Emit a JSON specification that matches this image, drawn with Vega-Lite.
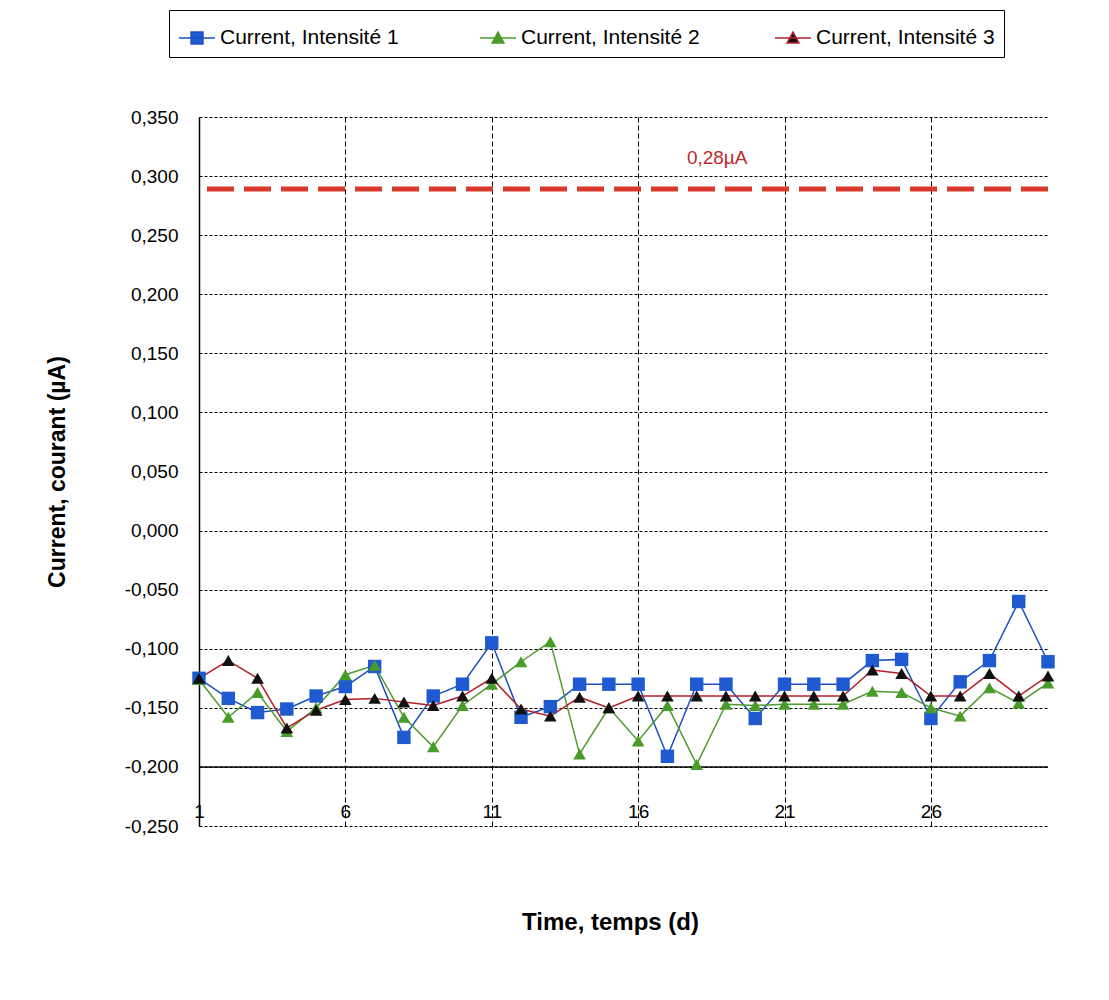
{
  "$schema": "https://vega.github.io/schema/vega-lite/v6.json",
  "width": 849,
  "height": 709,
  "autosize": {"type": "none"},
  "padding": {"left": 199, "top": 117, "right": 61, "bottom": 174},
  "background": "white",
  "config": {
    "locale": {"number": {"decimal": ",", "thousands": " ", "grouping": [3], "currency": ["", ""], "minus": "-"}},
    "view": {"stroke": null},
    "font": "Liberation Sans"
  },
  "datasets": {
    "series": [
      {"t": 1, "s": "Current, Intensité  1", "v": -0.125},
      {"t": 2, "s": "Current, Intensité  1", "v": -0.142},
      {"t": 3, "s": "Current, Intensité  1", "v": -0.154},
      {"t": 4, "s": "Current, Intensité  1", "v": -0.151},
      {"t": 5, "s": "Current, Intensité  1", "v": -0.140},
      {"t": 6, "s": "Current, Intensité  1", "v": -0.132},
      {"t": 7, "s": "Current, Intensité  1", "v": -0.115},
      {"t": 8, "s": "Current, Intensité  1", "v": -0.175},
      {"t": 9, "s": "Current, Intensité  1", "v": -0.140},
      {"t": 10, "s": "Current, Intensité  1", "v": -0.130},
      {"t": 11, "s": "Current, Intensité  1", "v": -0.095},
      {"t": 12, "s": "Current, Intensité  1", "v": -0.158},
      {"t": 13, "s": "Current, Intensité  1", "v": -0.149},
      {"t": 14, "s": "Current, Intensité  1", "v": -0.130},
      {"t": 15, "s": "Current, Intensité  1", "v": -0.130},
      {"t": 16, "s": "Current, Intensité  1", "v": -0.130},
      {"t": 17, "s": "Current, Intensité  1", "v": -0.191},
      {"t": 18, "s": "Current, Intensité  1", "v": -0.130},
      {"t": 19, "s": "Current, Intensité  1", "v": -0.130},
      {"t": 20, "s": "Current, Intensité  1", "v": -0.159},
      {"t": 21, "s": "Current, Intensité  1", "v": -0.130},
      {"t": 22, "s": "Current, Intensité  1", "v": -0.130},
      {"t": 23, "s": "Current, Intensité  1", "v": -0.130},
      {"t": 24, "s": "Current, Intensité  1", "v": -0.110},
      {"t": 25, "s": "Current, Intensité  1", "v": -0.109},
      {"t": 26, "s": "Current, Intensité  1", "v": -0.159},
      {"t": 27, "s": "Current, Intensité  1", "v": -0.128},
      {"t": 28, "s": "Current, Intensité  1", "v": -0.110},
      {"t": 29, "s": "Current, Intensité  1", "v": -0.060},
      {"t": 30, "s": "Current, Intensité  1", "v": -0.111},
      {"t": 1, "s": "Current, Intensité 2", "v": -0.126},
      {"t": 2, "s": "Current, Intensité 2", "v": -0.158},
      {"t": 3, "s": "Current, Intensité 2", "v": -0.137},
      {"t": 4, "s": "Current, Intensité 2", "v": -0.170},
      {"t": 5, "s": "Current, Intensité 2", "v": -0.150},
      {"t": 6, "s": "Current, Intensité 2", "v": -0.122},
      {"t": 7, "s": "Current, Intensité 2", "v": -0.114},
      {"t": 8, "s": "Current, Intensité 2", "v": -0.158},
      {"t": 9, "s": "Current, Intensité 2", "v": -0.183},
      {"t": 10, "s": "Current, Intensité 2", "v": -0.148},
      {"t": 11, "s": "Current, Intensité 2", "v": -0.130},
      {"t": 12, "s": "Current, Intensité 2", "v": -0.111},
      {"t": 13, "s": "Current, Intensité 2", "v": -0.094},
      {"t": 14, "s": "Current, Intensité 2", "v": -0.189},
      {"t": 15, "s": "Current, Intensité 2", "v": -0.150},
      {"t": 16, "s": "Current, Intensité 2", "v": -0.178},
      {"t": 17, "s": "Current, Intensité 2", "v": -0.148},
      {"t": 18, "s": "Current, Intensité 2", "v": -0.198},
      {"t": 19, "s": "Current, Intensité 2", "v": -0.147},
      {"t": 20, "s": "Current, Intensité 2", "v": -0.148},
      {"t": 21, "s": "Current, Intensité 2", "v": -0.147},
      {"t": 22, "s": "Current, Intensité 2", "v": -0.147},
      {"t": 23, "s": "Current, Intensité 2", "v": -0.147},
      {"t": 24, "s": "Current, Intensité 2", "v": -0.136},
      {"t": 25, "s": "Current, Intensité 2", "v": -0.137},
      {"t": 26, "s": "Current, Intensité 2", "v": -0.150},
      {"t": 27, "s": "Current, Intensité 2", "v": -0.157},
      {"t": 28, "s": "Current, Intensité 2", "v": -0.133},
      {"t": 29, "s": "Current, Intensité 2", "v": -0.146},
      {"t": 30, "s": "Current, Intensité 2", "v": -0.129},
      {"t": 1, "s": "Current, Intensité 3", "v": -0.125},
      {"t": 2, "s": "Current, Intensité 3", "v": -0.110},
      {"t": 3, "s": "Current, Intensité 3", "v": -0.125},
      {"t": 4, "s": "Current, Intensité 3", "v": -0.167},
      {"t": 5, "s": "Current, Intensité 3", "v": -0.152},
      {"t": 6, "s": "Current, Intensité 3", "v": -0.143},
      {"t": 7, "s": "Current, Intensité 3", "v": -0.142},
      {"t": 8, "s": "Current, Intensité 3", "v": -0.145},
      {"t": 9, "s": "Current, Intensité 3", "v": -0.148},
      {"t": 10, "s": "Current, Intensité 3", "v": -0.140},
      {"t": 11, "s": "Current, Intensité 3", "v": -0.125},
      {"t": 12, "s": "Current, Intensité 3", "v": -0.151},
      {"t": 13, "s": "Current, Intensité 3", "v": -0.157},
      {"t": 14, "s": "Current, Intensité 3", "v": -0.141},
      {"t": 15, "s": "Current, Intensité 3", "v": -0.150},
      {"t": 16, "s": "Current, Intensité 3", "v": -0.140},
      {"t": 17, "s": "Current, Intensité 3", "v": -0.140},
      {"t": 18, "s": "Current, Intensité 3", "v": -0.140},
      {"t": 19, "s": "Current, Intensité 3", "v": -0.140},
      {"t": 20, "s": "Current, Intensité 3", "v": -0.140},
      {"t": 21, "s": "Current, Intensité 3", "v": -0.140},
      {"t": 22, "s": "Current, Intensité 3", "v": -0.140},
      {"t": 23, "s": "Current, Intensité 3", "v": -0.140},
      {"t": 24, "s": "Current, Intensité 3", "v": -0.118},
      {"t": 25, "s": "Current, Intensité 3", "v": -0.121},
      {"t": 26, "s": "Current, Intensité 3", "v": -0.140},
      {"t": 27, "s": "Current, Intensité 3", "v": -0.140},
      {"t": 28, "s": "Current, Intensité 3", "v": -0.121},
      {"t": 29, "s": "Current, Intensité 3", "v": -0.140},
      {"t": 30, "s": "Current, Intensité 3", "v": -0.123}
    ],
    "notes": [
      {"t": 18.7, "v": 0.315, "label": "0,28µA"}
    ]
  },
  "layer": [
    {
      "data": {"values": [{"v": -0.2}]},
      "mark": {"type": "rule", "color": "black", "strokeWidth": 1.5},
      "encoding": {"y": {"field": "v", "type": "quantitative"}}
    },
    {
      "data": {"values": [{"v": 0.289}]},
      "mark": {"type": "rule", "color": "#d8392b", "strokeWidth": 5, "strokeDash": [27, 10]},
      "encoding": {"y": {"field": "v", "type": "quantitative"}}
    },
    {
      "data": {"name": "series"},
      "mark": {"type": "line", "strokeWidth": 1.5},
      "encoding": {
        "x": {
          "field": "t", "type": "quantitative",
          "scale": {"domain": [1, 30], "nice": false, "zero": false},
          "axis": {
            "values": [1, 6, 11, 16, 21, 26],
            "grid": true, "gridColor": "black", "gridOpacity": 1, "gridDash": [5, 3], "gridWidth": 1,
            "domain": false, "ticks": false,
            "labelPadding": -24, "labelFlush": false, "labelFontSize": 19, "labelColor": "black",
            "title": "Time, temps (d)", "titleFontSize": 24, "titleFontWeight": "bold", "titleColor": "black",
            "titleY": 96, "titleBaseline": "middle", "titleX": 411
          }
        },
        "y": {
          "field": "v", "type": "quantitative",
          "scale": {"domain": [-0.25, 0.35], "nice": false, "zero": false},
          "axis": {
            "values": [-0.25, -0.2, -0.15, -0.1, -0.05, 0, 0.05, 0.1, 0.15, 0.2, 0.25, 0.3, 0.35],
            "format": ".3f",
            "grid": true, "gridColor": "black", "gridOpacity": 1, "gridDash": [3, 2], "gridWidth": 1,
            "domain": true, "domainColor": "black", "domainWidth": 1.5, "ticks": false,
            "labelPadding": 21, "labelFontSize": 19, "labelColor": "black",
            "title": "Current, courant (µA)", "titleFontSize": 23, "titleFontWeight": "bold", "titleColor": "black",
            "titlePadding": 55
          }
        },
        "stroke": {
          "field": "s", "type": "nominal", "title": null,
          "scale": {"domain": ["Current, Intensité  1", "Current, Intensité 2", "Current, Intensité 3"], "range": ["#1d4fc2", "#4f9a2e", "#b3202a"]},
          "legend": {
            "orient": "none", "legendX": -30, "legendY": -107, "direction": "horizontal", "columns": 3,
            "columnPadding": 72, "padding": 9, "strokeColor": "black", "fillColor": "white",
            "labelFontSize": 21, "labelColor": "black", "labelOffset": 4, "labelLimit": 400,
            "symbolSize": 1296, "symbolStrokeWidth": 1.5
          }
        },
        "detail": {"field": "s"}
      }
    },
    {
      "data": {"name": "series"},
      "mark": {"type": "point", "filled": true, "size": 0, "opacity": 1},
      "encoding": {
        "x": {"field": "t", "type": "quantitative"},
        "y": {"field": "v", "type": "quantitative"},
        "fill": {
          "field": "s", "type": "nominal", "title": null,
          "scale": {"domain": ["Current, Intensité  1", "Current, Intensité 2", "Current, Intensité 3"], "range": ["#1f5ad0", "#4a9c2a", "#111111"]}
        },
        "shape": {
          "field": "s", "type": "nominal", "title": null,
          "scale": {"domain": ["Current, Intensité  1", "Current, Intensité 2", "Current, Intensité 3"], "range": ["M-1,0H1M-0.33,-0.33H0.33V0.33H-0.33Z", "M-1,0H1M-0.33,0.28L0,-0.33L0.33,0.28Z", "M-1,0H1M-0.33,0.28L0,-0.33L0.33,0.28Z"]}
        }
      }
    },
    {
      "data": {"name": "series"},
      "transform": [{"filter": "datum.s === 'Current, Intensité  1'"}],
      "mark": {"type": "point", "filled": true, "size": 180, "opacity": 1, "shape": "square"},
      "encoding": {
        "x": {"field": "t", "type": "quantitative"},
        "y": {"field": "v", "type": "quantitative"},
        "fill": {"field": "s", "type": "nominal", "title": null}
      }
    },
    {
      "data": {"name": "series"},
      "transform": [{"filter": "datum.s !== 'Current, Intensité  1'"}],
      "mark": {"type": "point", "filled": true, "size": 160, "opacity": 1, "shape": "triangle-up"},
      "encoding": {
        "x": {"field": "t", "type": "quantitative"},
        "y": {"field": "v", "type": "quantitative"},
        "fill": {"field": "s", "type": "nominal", "title": null}
      }
    },
    {
      "data": {"name": "notes"},
      "mark": {"type": "text", "color": "#c0282d", "fontSize": 19, "align": "center", "baseline": "middle"},
      "encoding": {
        "x": {"field": "t", "type": "quantitative"},
        "y": {"field": "v", "type": "quantitative"},
        "text": {"field": "label"}
      }
    }
  ]
}
